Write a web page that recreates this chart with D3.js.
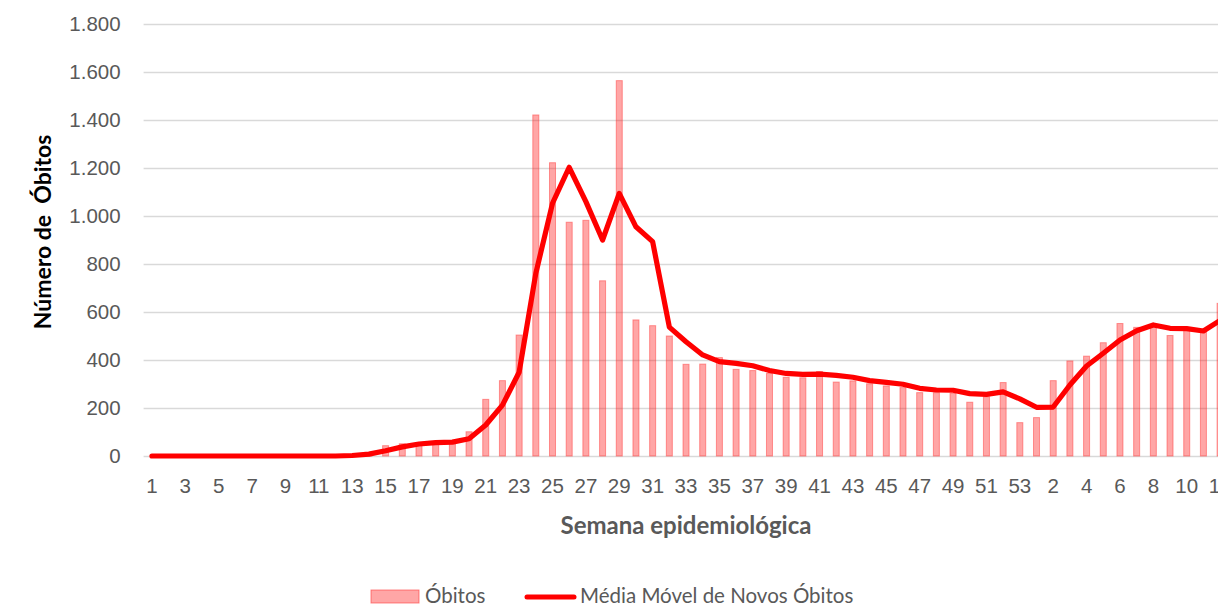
<!DOCTYPE html>
<html>
<head>
<meta charset="utf-8">
<script src="https://cdn.jsdelivr.net/npm/d3@7"></script>
<style>
  body { margin: 0; background: #fff; }
  svg { display: block; font-family: Lato, "Liberation Sans", sans-serif; }
</style>
</head>
<body>
<div id="chart"></div>
<script>
// semanas epidemiologicas (ano 1: 1-53, ano 2: 1-12)
var semanas = [1,2,3,4,5,6,7,8,9,10,11,12,13,14,15,16,17,18,19,20,21,22,23,24,25,26,27,28,29,30,
  31,32,33,34,35,36,37,38,39,40,41,42,43,44,45,46,47,48,49,50,51,52,53,
  1,2,3,4,5,6,7,8,9,10,11,12];

var obitos = [0,0,0,0,0,0,0,0,0,0,0,0,1,3,43,51,46,56,54,101,236,314,504,1421,1222,974,982,730,1564,567,
  543,500,382,383,410,361,356,344,328,326,352,308,313,301,292,285,264,264,261,224,247,306,139,
  160,314,396,416,472,552,536,540,502,527,517,636];

var mediaMovel = [0,0,0,0,0,0,0,0,0,0,0,0,2,8,22,38,50,56,58,72,129,212,349,761,1053,1203,1060,900,1094,955,
  893,537,476,421,393,386,376,356,344,340,341,336,328,314,307,299,282,275,274,260,257,267,238,
  203,204,296,375,428,483,522,546,532,531,521,565];

var yTicks = [0,200,400,600,800,1000,1200,1400,1600,1800];

var width = 1218,
    height = 608;

var svg = d3.select('#chart')
  .append("svg")
  .attr("width", width)
  .attr("height", height)
  .style("overflow", "hidden");

var fmt = function(v) { return d3.format(",")(v).replace(/,/g, "."); };

var x = d3.scaleBand()
  .domain(d3.range(semanas.length))
  .range([143.6, 143.6 + semanas.length * 16.69]);

var y = d3.scaleLinear()
  .domain([0, 1800])
  .range([456, 24]);

// grade horizontal
svg.append("g")
  .selectAll("line")
  .data(yTicks)
  .enter().append("line")
  .attr("x1", 143.6)
  .attr("x2", width)
  .attr("y1", function(d) { return Math.round(y(d)) + 0.5; })
  .attr("y2", function(d) { return Math.round(y(d)) + 0.5; })
  .attr("stroke", "#d9d9d9")
  .attr("stroke-width", 1.3);

// eixo y
var yAxis = svg.append("g")
  .attr("transform", "translate(143.6,0)")
  .call(d3.axisLeft(y).tickValues(yTicks).tickFormat(fmt).tickSize(0).tickPadding(23));
yAxis.select(".domain").remove();
yAxis.selectAll("text")
  .style("font-size", "20.5px")
  .style("fill", "#595959");

// eixo x
var xAxis = svg.append("g")
  .attr("transform", "translate(0,456)")
  .call(d3.axisBottom(x)
    .tickValues(x.domain().filter(function(i) { return i % 2 === 0; }))
    .tickFormat(function(i) { return semanas[i]; })
    .tickSize(0).tickPadding(22));
xAxis.select(".domain").remove();
xAxis.selectAll("text")
  .style("font-size", "20.5px")
  .style("fill", "#595959");

// barras
var bw = x.bandwidth() * 0.36;
svg.append("g")
  .selectAll("rect")
  .data(obitos)
  .enter().append("rect")
  .attr("x", function(d, i) { return x(i) + x.bandwidth() / 2 - bw / 2; })
  .attr("y", function(d) { return y(d); })
  .attr("width", bw)
  .attr("height", function(d) { return y(0) - y(d); })
  .attr("fill", "rgba(255,0,0,0.35)")
  .attr("stroke", "rgba(255,60,60,0.5)")
  .attr("stroke-width", 1);

// media movel
var line = d3.line()
  .x(function(d, i) { return x(i) + x.bandwidth() / 2; })
  .y(function(d) { return y(d); });

svg.append("path")
  .datum(mediaMovel)
  .attr("d", line)
  .attr("fill", "none")
  .attr("stroke", "#ff0000")
  .attr("stroke-width", 5.2)
  .attr("stroke-linejoin", "round")
  .attr("stroke-linecap", "round");

// titulos dos eixos
svg.append("text")
  .attr("transform", "translate(51,232) rotate(-90)")
  .attr("text-anchor", "middle")
  .style("font-size", "23px")
  .style("font-weight", "bold")
  .style("white-space", "pre")
  .style("fill", "#000")
  .text("Número de  Óbitos");

svg.append("text")
  .attr("x", 686)
  .attr("y", 534)
  .attr("text-anchor", "middle")
  .style("font-size", "24px")
  .style("font-weight", "bold")
  .style("fill", "#595959")
  .text("Semana epidemiológica");

// legenda
var leg = svg.append("g");
leg.append("rect")
  .attr("x", 371).attr("y", 590)
  .attr("width", 48).attr("height", 13)
  .attr("fill", "rgba(255,0,0,0.35)")
  .attr("stroke", "rgba(255,60,60,0.6)");
leg.append("text")
  .attr("x", 425).attr("y", 603)
  .style("font-size", "20.5px")
  .style("fill", "#595959")
  .text("Óbitos");
leg.append("line")
  .attr("x1", 527).attr("x2", 574)
  .attr("y1", 597).attr("y2", 597)
  .attr("stroke", "#ff0000")
  .attr("stroke-width", 5)
  .attr("stroke-linecap", "round");
leg.append("text")
  .attr("x", 580).attr("y", 603)
  .style("font-size", "20.5px")
  .style("fill", "#595959")
  .text("Média Móvel de Novos Óbitos");
</script>
</body>
</html>
